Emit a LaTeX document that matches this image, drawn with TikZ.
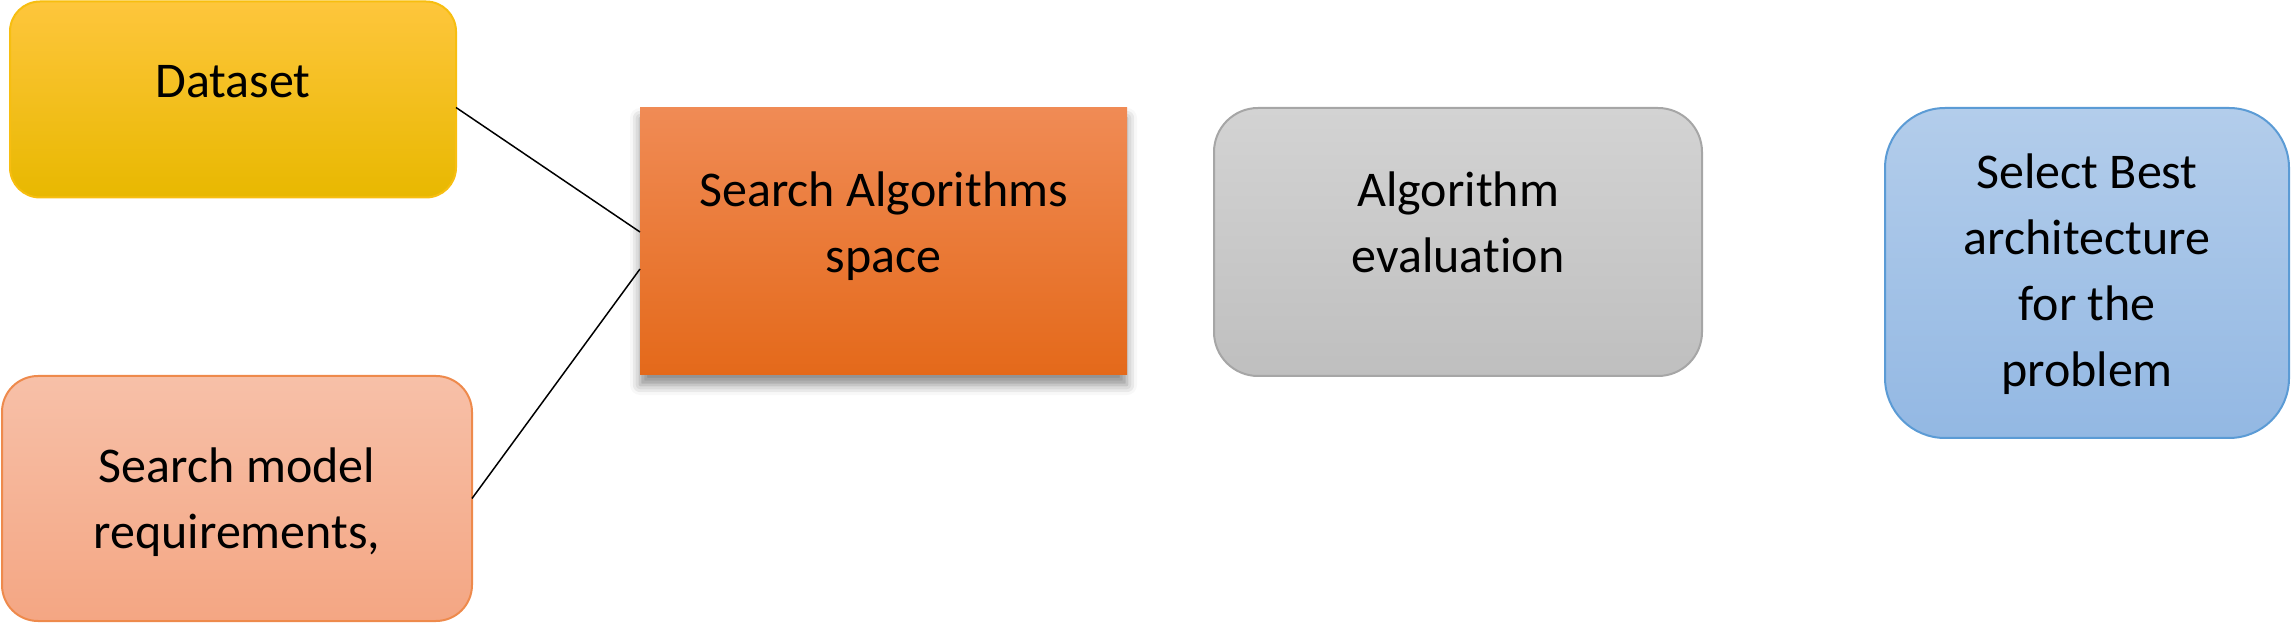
\documentclass[tikz,border=0pt]{standalone}
\usepackage{fontspec}
\setmainfont{Carlito}[Ligatures={NoCommon}]
\usetikzlibrary{shadows.blur,calc}
\definecolor{dsTop}{HTML}{FEC63C}
\definecolor{dsMid}{HTML}{FFC200}
\definecolor{dsBot}{HTML}{E8B800}
\definecolor{dsLine}{HTML}{F7BE10}
\definecolor{smTop}{HTML}{F7C0A8}
\definecolor{smMid}{HTML}{F5B295}
\definecolor{smBot}{HTML}{F4A683}
\definecolor{smLine}{HTML}{EE8A4C}
\definecolor{saTop}{HTML}{F08B55}
\definecolor{saMid}{HTML}{F57C2B}
\definecolor{saBot}{HTML}{E4691A}
\definecolor{aeTop}{HTML}{D3D3D3}
\definecolor{aeMid}{HTML}{C8C8C8}
\definecolor{aeBot}{HTML}{BFBFBF}
\definecolor{aeLine}{HTML}{A6A6A6}
\definecolor{sbTop}{HTML}{B3CDEB}
\definecolor{sbMid}{HTML}{A3C2E7}
\definecolor{sbBot}{HTML}{93B8E3}
\definecolor{sbLine}{HTML}{5B9BD5}
\begin{document}
\begin{tikzpicture}[x=0.5pt,y=-0.5pt,
  box/.style={inner sep=0pt, outer sep=0pt, line width=1pt},
  txt/.style={font=\fontsize{25}{33}\selectfont, align=center, inner sep=0pt, text=black},
  conn/.style={draw=black, line width=0.75pt},
]
\useasboundingbox (0,0) rectangle (2291,624);
% boxes
\node[box, draw=dsLine, top color=dsTop, middle color=dsMid, bottom color=dsBot,
      rounded corners=15pt, minimum width=223pt, minimum height=98pt] (ds) at (233,99.5) {};
\node[box, draw=smLine, top color=smTop, middle color=smMid, bottom color=smBot,
      rounded corners=18pt, minimum width=235pt, minimum height=122.5pt] (sm) at (237,498.5) {};
\node[box, top color=saTop, middle color=saMid, bottom color=saBot,
      blur shadow={shadow xshift=0pt, shadow yshift=-5pt, shadow blur radius=5pt, shadow opacity=45},
      minimum width=243.5pt, minimum height=133.5pt] (sa) at (883.5,241.5) {};
\node[box, draw=aeLine, top color=aeTop, middle color=aeMid, bottom color=aeBot,
      rounded corners=22pt, minimum width=244pt, minimum height=134pt] (ae) at (1458,242) {};
\node[box, draw=sbLine, top color=sbTop, middle color=sbMid, bottom color=sbBot,
      rounded corners=30pt, minimum width=202pt, minimum height=165pt] (sb) at (2087,273) {};
% texts
\node[txt] (dst) at (233,84.3) {\strut Dataset};
\node[txt] (sat) at (883.5,226.8) {\strut Search Algorithms\\\strut space};
\node[txt] (aet) at (1458,226.8) {\strut Algorithm\\\strut evaluation};
\node[txt] (smt) at (237,502.3) {\strut Search model\\\strut requirements,};
\node[txt] (sbt) at (2087,274.8) {\strut Select Best\\\strut architecture\\\strut for the\\\strut problem};
% connectors
\draw[conn] ([yshift=-4pt]ds.east) -- ([yshift=4.75pt]sa.west);
\draw[conn] (sm.east) -- ([yshift=-13.75pt]sa.west);
\end{tikzpicture}
\end{document}
